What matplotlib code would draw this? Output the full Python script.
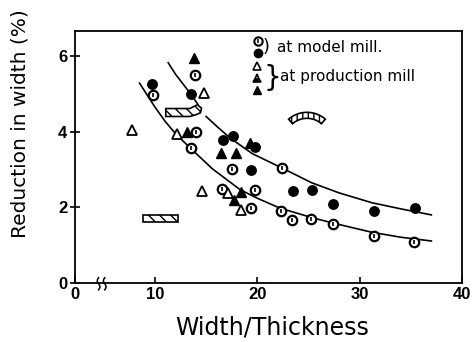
"""
Reduction in width against width/thickness ratio, model mill and production mill
"""
import numpy as np
import matplotlib
matplotlib.use('Agg')
from matplotlib import pyplot as plt
from matplotlib.patches import Polygon, Rectangle

# model mill, solid circles
model_solid_x = [9.68, 13.51, 16.65, 17.62, 19.74, 19.42, 23.53, 25.32, 27.36, 31.42, 35.41]
model_solid_y = [5.26, 4.99, 3.78, 3.89, 3.59, 2.99, 2.44, 2.46, 2.09, 1.89, 1.99]

# model mill, barred circles
model_open_x = [13.96, 9.78, 14.06, 13.57, 17.53, 16.59, 19.74, 19.42, 22.43, 22.34,
                23.41, 25.26, 27.36, 31.42, 35.32]
model_open_y = [5.50, 4.97, 4.00, 3.58, 3.02, 2.48, 2.46, 1.98, 3.03, 1.89,
                1.67, 1.69, 1.56, 1.24, 1.09]

# production mill triangles
prod_open_x = [7.73, 14.77, 12.17, 14.61, 17.14, 18.44]
prod_open_y = [4.05, 5.03, 3.94, 2.44, 2.37, 1.93]
prod_solid_x = [13.80, 13.15, 19.32, 16.49, 17.89, 18.44, 17.69]
prod_solid_y = [5.95, 4.00, 3.70, 3.43, 3.43, 2.40, 2.20]

# fitted curves (upper one is interrupted at the hatched band)
upper_x = [11.3, 12.0, 13.4, 14.2, np.nan, 15.0, 16.0, 17.3, 19.5, 22.4, 25.3, 28.0, 31.2, 34.0, 37.0]
upper_y = [5.82, 5.52, 5.03, 4.72, np.nan, 4.40, 4.15, 3.84, 3.42, 3.04, 2.65, 2.38, 2.12, 1.96, 1.80]
lower_x = [8.5, 10.0, 11.0, 12.1, 13.6, 15.6, 18.3, 20.0, 22.2, 25.3, 27.3, 31.2, 34.0, 37.0]
lower_y = [5.28, 4.65, 4.27, 3.92, 3.53, 3.02, 2.47, 2.24, 1.98, 1.73, 1.59, 1.34, 1.21, 1.11]

# hatched ranges
band_upper = [(11.06, 4.40), (11.06, 4.61), (13.40, 4.61), (14.15, 4.71), (14.55, 4.62),
              (14.45, 4.50), (14.05, 4.45), (13.40, 4.40)]
band_lower = (8.85, 1.60, 3.45, 0.21)   # x, y, width, height
arc_center = (24.85, 3.77)
arc_radii_px = (22, 28)
arc_angles = (49, 131)

xmin, xmax = 2.2, 40
ymin, ymax = 0, 6.66
x_ticks = [xmin, 10, 20, 30, 40]
x_labels = ['0', '10', '20', '30', '40']
y_ticks = [0, 2, 4, 6]

fig = plt.figure(figsize=(4.72, 3.42), dpi=100)
ax = fig.add_axes([0.159, 0.1725, 0.820, 0.737])
ax.set_xlim(xmin, xmax)
ax.set_ylim(ymin, ymax)

ax.plot(upper_x, upper_y, color='black', lw=1.2, zorder=2)
ax.plot(lower_x, lower_y, color='black', lw=1.2, zorder=2)

ms = 6.8
ax.plot(model_solid_x, model_solid_y, 'o', color='black', ms=ms, zorder=4)
ax.plot(model_open_x, model_open_y, 'o', mfc='white', mec='black', mew=1.6, ms=ms, zorder=4)
ax.plot(model_open_x, model_open_y, '|', color='black', mew=1.2, ms=3.5, zorder=5)
ax.plot(prod_open_x, prod_open_y, '^', mfc='white', mec='black', mew=1.3, ms=6.5, zorder=4)
ax.plot(prod_solid_x, prod_solid_y, '^', color='black', ms=6.5, zorder=4)

# hatched ranges
plt.rcParams['hatch.linewidth'] = 1.0
ax.add_patch(Polygon(band_upper, closed=True, facecolor='white', edgecolor='black',
                     lw=1.2, hatch='\\' * 3, zorder=3))
bx, by, bw, bh = band_lower
ax.add_patch(Rectangle((bx, by), bw, bh, facecolor='white', edgecolor='black',
                       lw=1.2, hatch='\\' * 3, zorder=3))

# arc band: circular in pixels, so scale radii by px per data unit
px_x = fig.get_figwidth() * fig.dpi * 0.820 / (xmax - xmin)
px_y = fig.get_figheight() * fig.dpi * 0.737 / (ymax - ymin)
t = np.radians(np.linspace(arc_angles[0], arc_angles[1], 40))
r_in, r_out = arc_radii_px
ox = arc_center[0] + r_out / px_x * np.cos(t)
oy = arc_center[1] + r_out / px_y * np.sin(t)
ix = arc_center[0] + r_in / px_x * np.cos(t[::-1])
iy = arc_center[1] + r_in / px_y * np.sin(t[::-1])
ax.add_patch(Polygon(np.column_stack([np.r_[ox, ix], np.r_[oy, iy]]), closed=True,
                     facecolor='white', edgecolor='black', lw=1.2, hatch='|' * 3, zorder=3))

# axis break marks
for xb in [4.5, 5.1]:
    s = np.linspace(0, 1, 30)
    ax.plot(xb + 0.13 * np.sin(2 * np.pi * s), -0.18 + 0.32 * s, color='black',
            lw=1.1, clip_on=False, zorder=6)

# legend drawn by hand
tr = ax.transAxes
ax.plot(0.473, 0.960, 'o', mfc='white', mec='black', mew=1.5, ms=6, transform=tr, clip_on=False)
ax.plot(0.473, 0.960, '|', color='black', mew=1.1, ms=3, transform=tr, clip_on=False)
ax.plot(0.473, 0.913, 'o', color='black', ms=6, transform=tr, clip_on=False)
ax.text(0.484, 0.936, ')', fontsize=13, va='center', ha='left', transform=tr)
ax.text(0.522, 0.933, 'at model mill.', fontsize=11, va='center', ha='left', transform=tr)
ax.plot(0.470, 0.861, '^', mfc='white', mec='black', mew=1.2, ms=5.5, transform=tr, clip_on=False)
ax.plot(0.470, 0.813, '^', mfc='black', mfcalt='white', fillstyle='bottom', mec='black',
        mew=1.2, ms=5.5, transform=tr, clip_on=False)
ax.plot(0.470, 0.766, '^', color='black', ms=5.5, transform=tr, clip_on=False)
ax.text(0.486, 0.812, '}', fontsize=20, va='center', ha='left', transform=tr)
ax.text(0.530, 0.818, 'at production mill', fontsize=11, va='center', ha='left', transform=tr)

tick_font = ['Liberation Sans Narrow', 'Liberation Sans', 'DejaVu Sans']
ax.set_xticks(x_ticks)
ax.set_xticklabels(x_labels, family=tick_font, fontsize=12, fontweight='bold')
ax.set_yticks(y_ticks)
ax.set_yticklabels([str(v) for v in y_ticks], family=tick_font, fontsize=12, fontweight='bold')
ax.tick_params(axis='x', direction='in', length=4, width=1.2, pad=3)
ax.tick_params(axis='y', direction='inout', length=7, width=1.2, pad=2)
for sp in ax.spines.values():
    sp.set_linewidth(1.3)

ax.set_xlabel('Width/Thickness', fontsize=17)
ax.xaxis.set_label_coords(0.510, -0.128)
ax.xaxis.label.set_va('top')
ax.set_ylabel('Reduction in width (%)', fontsize=14.5)
ax.yaxis.set_label_coords(-0.118, 0.633)

fig.savefig('out.png', dpi=100)
